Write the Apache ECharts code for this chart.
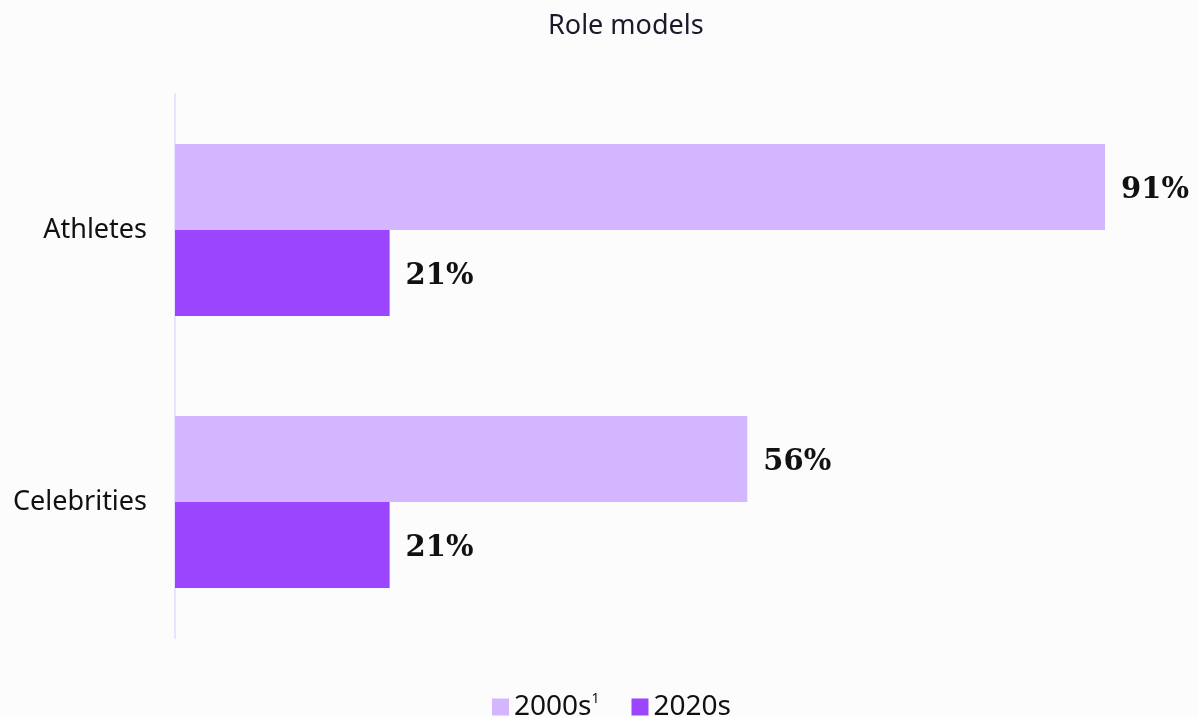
<!DOCTYPE html>
<html>
<head>
<meta charset="utf-8">
<script src="https://cdn.jsdelivr.net/npm/echarts@6/dist/echarts.min.js"></script>
<style>
  html, body { margin: 0; padding: 0; background: #fcfcfd; }
  #main { width: 1198px; height: 717px; }
</style>
</head>
<body>
<div id="main"></div>
<script>
var categories = ["Athletes", "Celebrities"];
var values2000s = [91, 56];
var values2020s = [21, 21];

var chartDom = document.getElementById("main");
var myChart = echarts.init(chartDom);
var option;

var labelStyle = {
  show: true,
  position: "right",
  distance: 16,
  offset: [0, 3],
  formatter: "{c}%",
  fontFamily: "DejaVu Serif",
  fontWeight: "bold",
  fontSize: 29,
  color: "#111"
};

option = {
  backgroundColor: "#fcfcfd",
  title: {
    text: "Role models",
    left: 543,
    top: 8,
    textStyle: {
      fontFamily: "Noto Sans",
      fontWeight: "normal",
      fontSize: 27,
      color: "#1a1a2a"
    }
  },
  legend: {
    top: 687,
    left: 487,
    itemWidth: 17,
    itemHeight: 17,
    itemGap: 32,
    icon: "rect",
    data: ["2000s", "2020s"],
    formatter: function (name) {
      return name === "2000s" ? name + "{sup|1}" : name;
    },
    textStyle: {
      fontFamily: "Noto Sans",
      fontSize: 28,
      color: "#111",
      rich: {
        sup: { fontSize: 14, verticalAlign: "top", padding: [0, 0, 16, 0], fontFamily: "Noto Sans", color: "#111" }
      }
    }
  },
  grid: {
    left: 175,
    right: 1,
    top: 94,
    bottom: 79,
    containLabel: false
  },
  xAxis: {
    type: "value",
    min: 0,
    max: 100,
    show: false
  },
  yAxis: {
    type: "category",
    inverse: true,
    data: categories,
    axisLine: { show: true, lineStyle: { color: "#ece1ff", width: 2 } },
    axisTick: { show: false },
    axisLabel: {
      fontFamily: "Noto Sans",
      fontSize: 27,
      color: "#111",
      margin: 28
    }
  },
  series: [
    {
      name: "2000s",
      type: "bar",
      data: values2000s,
      itemStyle: { color: "#d4b5ff" },
      barGap: "0%",
      barCategoryGap: "36.8%",
      label: labelStyle
    },
    {
      name: "2020s",
      type: "bar",
      data: values2020s,
      itemStyle: { color: "#9b45ff" },
      label: labelStyle
    }
  ]
};

option && myChart.setOption(option);
</script>
</body>
</html>
